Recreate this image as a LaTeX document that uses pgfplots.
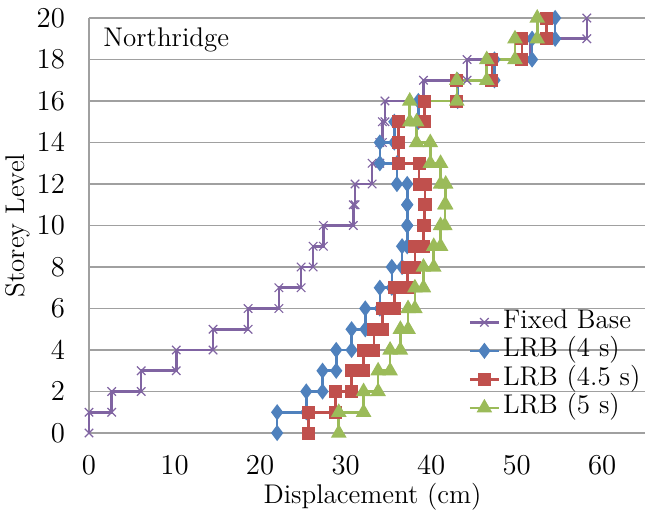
\documentclass[border=0pt]{standalone}
\usepackage{fontspec}
\usepackage{pgfplots}
\pgfplotsset{compat=1.18}
\definecolor{cFB}{HTML}{8064A2}
\definecolor{cLa}{HTML}{4F81BD}
\definecolor{cLb}{HTML}{C0504D}
\definecolor{cLc}{HTML}{9BBB59}
\definecolor{gridc}{HTML}{A0A0A0}
\newcommand\cf{\fontsize{13.5}{16}\selectfont}
\begin{document}
\begin{tikzpicture}
\begin{axis}[
  at={(0,0)}, anchor=south west,
  scale only axis, width=278pt, height=207.5pt,
  xmin=0, xmax=65, ymin=0, ymax=20,
  xtick={0,10,...,60}, ytick={0,2,...,20},
  axis lines*=left,
  axis line style={draw=gridc, line width=0.75pt, -},
  ymajorgrids, major grid style={draw=gridc, line width=0.75pt},
  major tick length=0pt,
  tick label style={font=\cf},
  yticklabel style={xshift=-8.5pt},
  xticklabel style={yshift=-8pt},
  label style={font=\cf},
  xlabel={Displacement (cm)}, ylabel={Storey Level},
  xlabel style={at={([yshift=-32pt]axis description cs:0.51,0)}, anchor=center},
  ylabel style={at={([xshift=-35.5pt]axis description cs:0,0.5)}, anchor=center},
  clip=false,
  legend style={draw=none, fill=none, font=\cf,
    at={(axis description cs:0.682,0.299)}, anchor=north west,
    inner sep=0pt, row sep=1.25pt,
    nodes={inner xsep=1.5pt, inner ysep=0pt, text height=9.5pt, text depth=3.5pt}},
  legend cell align=left,
  legend image code/.code={\draw[mark repeat=2,mark phase=2] plot coordinates {(0pt,0pt) (7.25pt,0pt) (14.5pt,0pt)};},
]
\addplot[color=cFB, line width=1.3pt, mark=x, mark size=3pt, mark options={line width=0.6pt}] coordinates {
(0,0)(0,1)(2.65,1)(2.65,2)(6.1,2)(6.1,3)(10.2,3)(10.2,4)(14.5,4)(14.5,5)(18.6,5)(18.6,6)(22.2,6)(22.2,7)(24.8,7)(24.8,8)(26.2,8)(26.2,9)(27.4,9)(27.4,10)(30.9,10)(30.9,11)(31.1,11)(31.1,12)(33.1,12)(33.1,13)(34.0,13)(34.0,14)(34.3,14)(34.3,15)(34.6,15)(34.6,16)(39.1,16)(39.1,17)(44.2,17)(44.2,18)(51.6,18)(51.6,19)(58.2,19)(58.2,20)};
\addlegendentry{Fixed Base}
\addplot[color=cLa, line width=1.3pt, mark=diamond*, mark size=3pt] coordinates {
(22.0,0)(22.0,1)(25.4,1)(25.4,2)(27.3,2)(27.3,3)(28.9,3)(28.9,4)(30.7,4)(30.7,5)(32.3,5)(32.3,6)(34.0,6)(34.0,7)(35.4,7)(35.4,8)(36.6,8)(36.6,9)(37.2,9)(37.2,10)(37.2,10)(37.2,11)(37.2,11)(37.2,12)(36.0,12)(36.0,13)(34.0,13)(34.0,14)(35.7,14)(35.7,15)(38.5,15)(38.5,16)(43.1,16)(43.1,17)(47.4,17)(47.4,18)(51.8,18)(51.8,19)(54.5,19)(54.5,20)};
\addlegendentry{LRB (4 s)}
\addplot[color=cLb, line width=1.3pt, mark=square*, mark size=2.6pt] coordinates {
(25.65,0)(25.65,1)(28.8,1)(28.8,2)(30.7,2)(30.7,3)(32.1,3)(32.1,4)(33.3,4)(33.3,5)(34.3,5)(34.3,6)(35.7,6)(35.7,7)(37.2,7)(37.2,8)(38.1,8)(38.1,9)(39.1,9)(39.1,10)(39.2,10)(39.2,11)(39.3,11)(39.3,12)(38.6,12)(38.6,13)(36.2,13)(36.2,14)(36.2,14)(36.2,15)(39.2,15)(39.2,16)(43.0,16)(43.0,17)(47.1,17)(47.1,18)(50.6,18)(50.6,19)(53.5,19)(53.5,20)};
\addlegendentry{LRB (4.5 s)}
\addplot[color=cLc, line width=1.3pt, mark=triangle*, mark size=3.2pt] coordinates {
(29.2,0)(29.2,1)(32.1,1)(32.1,2)(33.8,2)(33.8,3)(35.2,3)(35.2,4)(36.4,4)(36.4,5)(37.3,5)(37.3,6)(38.1,6)(38.1,7)(39.1,7)(39.1,8)(40.3,8)(40.3,9)(41.1,9)(41.1,10)(41.6,10)(41.6,11)(41.7,11)(41.7,12)(41.1,12)(41.1,13)(39.9,13)(39.9,14)(38.3,14)(38.3,15)(37.5,15)(37.5,16)(43.0,16)(43.0,17)(46.5,17)(46.5,18)(49.8,18)(49.8,19)(52.4,19)(52.4,20)};
\addlegendentry{LRB (5 s)}
\node[anchor=west, inner sep=0pt, font=\cf] at (rel axis cs:0.0252,0.947) {Northridge};
\end{axis}
\pgfresetboundingbox
\path[use as bounding box] (-44.5pt,-41pt) rectangle (279.5pt,216.5pt);
\end{tikzpicture}
\end{document}
